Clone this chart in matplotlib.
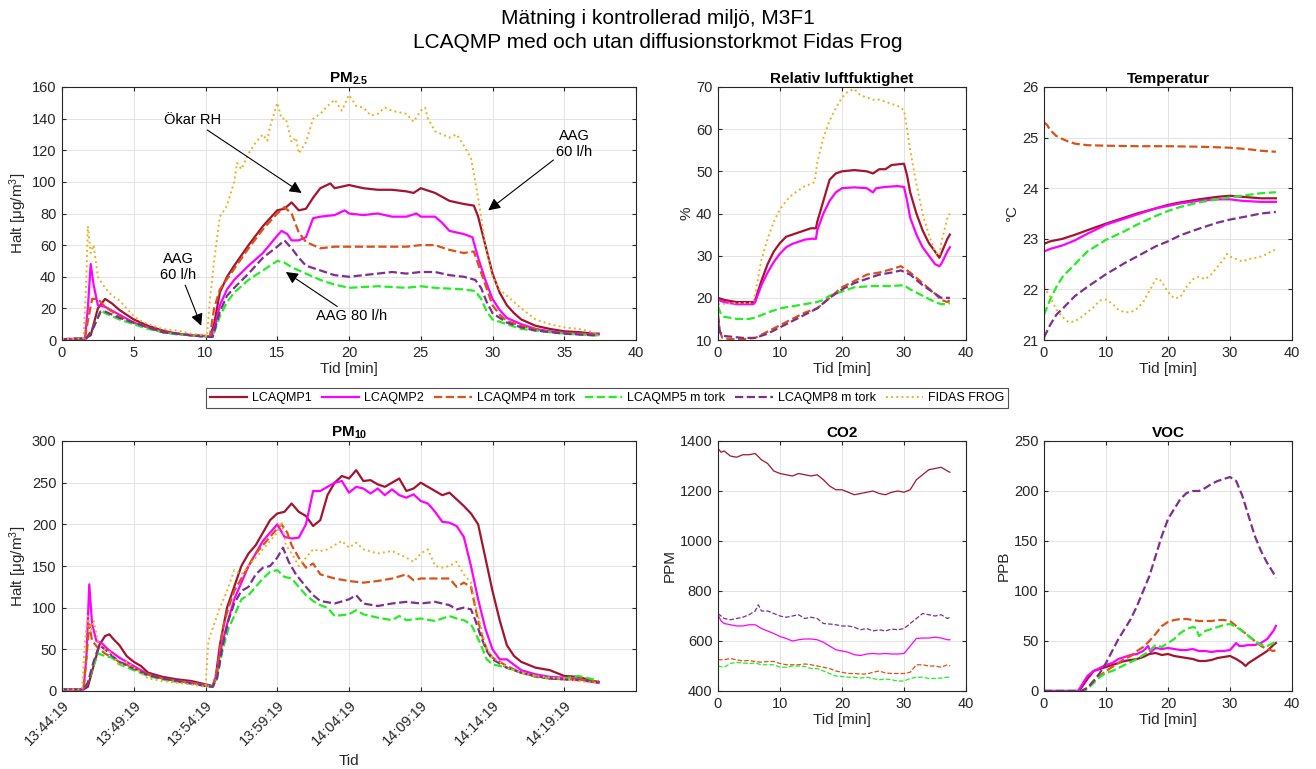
import numpy as np
import matplotlib
matplotlib.use('Agg')
import matplotlib.pyplot as plt

plt.rcParams['font.family'] = ['Liberation Sans', 'DejaVu Sans']
plt.rcParams['mathtext.fontset'] = 'custom'
plt.rcParams['mathtext.rm'] = 'Liberation Sans'
plt.rcParams['mathtext.bf'] = 'Liberation Sans:bold'
plt.rcParams['mathtext.it'] = 'Liberation Sans:italic'

names = ['LCAQMP1', 'LCAQMP2', 'LCAQMP4 m tork', 'LCAQMP5 m tork', 'LCAQMP8 m tork', 'FIDAS FROG']
colors = ['#A2142F', '#FF00FF', '#D95319', '#22EE22', '#7E2F8E', '#EDB120']
styles = ['-', '-', '--', '--', '--', ':']

pm10_ticklabels = ['13:44:19', '13:49:19', '13:54:19', '13:59:19', '14:04:19', '14:09:19', '14:14:19', '14:19:19']

# PM2.5, (tid [min], halt)
pm25_lc1 = [(0, 0.5), (1.5, 0.5), (2, 3), (2.5, 20), (3, 26), (3.5, 23), (4, 19), (5, 13), (6, 9), (7, 6), (8, 4), (9, 3),
            (10, 2.5), (10.3, 2), (10.6, 10), (11, 30), (11.5, 40), (12, 47), (13, 60), (14, 72), (15, 82), (15.5, 83),
            (16, 87), (16.5, 82), (17, 83), (17.5, 90), (18, 96), (18.7, 99), (19, 96), (20, 98), (21, 96), (22, 95),
            (23, 95), (24, 94), (24.5, 93), (25, 96), (26, 93), (27, 88), (27.5, 87), (28, 86), (28.7, 85), (29, 78),
            (29.5, 60), (30, 42), (30.5, 30), (31, 22), (31.5, 17), (32, 13), (33, 9), (34, 7), (35, 5.5), (36, 5),
            (37, 4), (37.4, 4)]
pm25_lc2 = [(0, 0.5), (1.6, 1), (1.8, 20), (2.0, 48), (2.2, 35), (2.5, 22), (3, 21), (4, 16), (5, 11), (6, 8), (7, 5),
            (8, 4), (9, 3), (10, 2.5), (10.4, 2), (10.7, 10), (11, 22), (11.5, 32), (12, 38), (13, 47), (14, 55), (15, 66),
            (15.3, 69), (15.7, 67), (16, 63), (16.5, 63), (17, 65), (17.5, 77), (18, 78), (19, 79), (19.7, 82), (20, 80),
            (21, 79), (22, 80), (23, 78), (24, 78), (24.7, 80), (25, 78), (26, 78), (26.5, 74), (27, 69), (28, 67),
            (28.6, 65), (29, 52), (29.5, 38), (30, 26), (30.5, 19), (31, 14), (32, 10), (33, 7), (34, 5.5), (35, 4.5),
            (36, 4), (37, 3.5), (37.4, 3.5)]
pm25_lc4 = [(0, 0.5), (1.6, 1), (1.8, 12), (2.1, 26), (2.5, 26), (3, 21), (4, 15), (5, 11), (6, 8), (7, 5), (8, 4), (9, 3),
            (10, 2.5), (10.3, 2), (10.6, 20), (11, 32), (12, 45), (13, 58), (14, 70), (15, 80), (15.5, 84), (16, 80),
            (16.5, 68), (17, 62), (17.5, 60), (18, 58), (19, 59), (20, 59), (22, 59), (24, 59), (25, 60), (26, 60),
            (27, 57), (28, 55), (28.7, 56), (29, 48), (29.5, 35), (30, 22), (30.5, 16), (31, 12), (32, 9), (33, 7),
            (34, 5), (35, 4.5), (36, 4), (37, 3.5), (37.4, 3.5)]
pm25_lc5 = [(0, 0.5), (1.7, 1), (2.2, 8), (2.7, 19), (3, 17), (4, 13), (5, 10), (6, 7), (7, 5), (8, 3.5), (9, 3), (10, 2),
            (10.5, 2), (11, 15), (11.5, 24), (12, 30), (13, 38), (14, 44), (15, 50), (15.5, 49), (16, 46), (17, 42),
            (18, 38), (19, 35), (20, 33), (22, 34), (24, 33), (25, 34), (26, 33), (28, 32), (28.8, 31), (29.2, 26),
            (29.6, 18), (30, 13), (31, 10), (32, 7), (33, 6), (34, 5), (35, 4), (36, 3.5), (37, 3), (37.4, 3)]
pm25_lc8 = [(0, 0.5), (1.7, 1), (2.2, 8), (2.7, 18), (3, 18), (4, 14), (5, 11), (6, 8), (7, 5), (8, 4), (9, 3), (10, 2),
            (10.5, 2), (11, 18), (11.5, 28), (12, 33), (13, 42), (14, 52), (15, 59), (15.5, 63), (16, 58), (16.5, 52),
            (17, 47), (18, 44), (19, 41), (20, 40), (21, 41), (22, 42), (23, 43), (24, 42), (25, 43), (26, 43), (27, 41),
            (28, 40), (28.8, 38), (29.2, 33), (29.6, 24), (30, 17), (31, 11), (32, 8), (33, 6), (34, 5), (35, 4),
            (36, 3.5), (37, 3), (37.4, 3)]
pm25_fidas = [(0, 0.5), (1.5, 1), (1.7, 40), (1.8, 72), (2.0, 55), (2.2, 60), (2.5, 40), (3, 33), (3.5, 28), (4, 25),
              (4.5, 20), (5, 15), (5.5, 12), (6, 10), (7, 7), (8, 6), (9, 4), (10, 3), (10.1, 2), (10.3, 25), (10.6, 50),
              (11, 78), (11.3, 82), (11.5, 85), (12, 100), (12.2, 112), (12.5, 108), (13, 118), (13.5, 125), (14, 130),
              (14.3, 126), (14.5, 135), (15, 150), (15.3, 140), (15.6, 140), (16, 125), (16.3, 128), (16.5, 118),
              (17, 125), (17.5, 140), (18, 143), (18.5, 148), (19, 152), (19.5, 145), (20, 155), (20.5, 148),
              (21, 147), (21.5, 142), (22, 143), (22.5, 147), (23, 145), (24, 143), (24.5, 138), (25, 145),
              (25.3, 147), (25.5, 140), (26, 132), (27, 128), (27.5, 130), (28, 123), (28.5, 115), (29, 90),
              (29.5, 60), (30, 40), (30.5, 32), (31, 28), (32, 20), (33, 13), (34, 10), (35, 8), (36, 7), (37, 5),
              (37.4, 4)]

# Relativ luftfuktighet [%]
rh_lc1 = [(0, 20), (1, 19.5), (3, 19), (5.7, 19), (6, 19.5), (7, 24), (8, 28), (9, 31), (10, 33), (11, 34.5), (12, 35),
          (13, 35.5), (14, 36), (15, 36.5), (15.8, 36.5), (16, 38), (17, 43), (18, 48), (19, 49.5), (20, 50), (22, 50.3),
          (24, 50), (25, 49.5), (26, 50.5), (27, 50.5), (28, 51.5), (30, 51.8), (30.5, 49), (31, 45), (32, 40),
          (33, 36), (34, 33), (35, 31), (35.7, 29.5), (36, 30.5), (37, 34), (37.4, 35)]
rh_lc2 = [(0, 19.5), (1, 19), (3, 18.5), (5.7, 18.5), (6, 19), (7, 23), (8, 26), (9, 28.5), (10, 30.5), (11, 32),
          (12, 32.8), (13, 33.3), (14, 33.8), (15, 34), (15.8, 34), (16, 36), (17, 40), (18, 43), (19, 45), (20, 46),
          (22, 46.2), (24, 46), (25, 45), (25.5, 46), (27, 46.3), (29, 46.5), (30, 46.3), (30.5, 43), (31, 39),
          (32, 35), (33, 32), (34, 30), (35, 28), (35.7, 27.5), (36, 28), (37, 31), (37.4, 32)]
rh_lc4 = [(0, 15), (0.3, 12), (0.7, 10.5), (2, 10.2), (4, 10.2), (6, 10.5), (8, 12), (10, 13.5), (12, 15), (14, 16.5),
          (16, 17.5), (18, 20), (20, 22.5), (22, 24), (24, 25.5), (26, 26), (28, 26.8), (29.5, 27.5), (31, 26),
          (33, 23.5), (35, 21), (36, 19.5), (37, 19), (37.4, 19.5)]
rh_lc5 = [(0, 18), (0.5, 16), (1, 15.5), (3, 15), (5, 15), (6, 15.3), (8, 16.5), (10, 17.5), (12, 18), (14, 18.5),
          (16, 19), (17, 19.5), (18, 20.5), (20, 21.5), (22, 22.5), (25, 22.8), (28, 22.8), (30, 23), (31, 22),
          (33, 20.5), (35, 19), (36, 18.5), (37, 18.5), (37.4, 18.8)]
rh_lc8 = [(0, 16), (0.3, 12), (0.7, 11), (2, 10.8), (4, 10.5), (6, 10.5), (8, 11.5), (10, 13), (12, 14.5), (14, 16),
          (16, 17.5), (18, 20), (20, 22), (22, 23.5), (24, 24.5), (26, 25.5), (28, 26), (29.5, 26.5), (31, 25.5),
          (33, 23), (35, 21), (36, 20), (37, 20), (37.4, 20)]
rh_fidas = [(0, 18.5), (2, 18.7), (5, 18.8), (5.7, 19), (6, 21), (7, 29), (8, 34), (9, 38), (10, 41), (11, 43),
            (12, 44.5), (13, 45.5), (14, 46.5), (15, 47), (15.6, 47.5), (16, 52), (17, 58), (18, 62), (19, 65),
            (20, 67.5), (21, 69), (22, 69.5), (23, 68), (24, 67.5), (25, 67), (26, 67), (27, 66.5), (28, 66),
            (29, 65.5), (30, 64.5), (30.5, 60), (31, 55), (32, 47), (33, 40), (34, 35), (35, 31), (35.7, 30),
            (36, 33), (37, 39), (37.4, 40)]

# Temperatur [C]
temp_lc1 = [(0, 22.9), (1, 22.95), (3, 23.0), (5, 23.08), (7, 23.17), (10, 23.3), (13, 23.42), (15, 23.5), (18, 23.6),
            (20, 23.67), (22, 23.72), (25, 23.78), (28, 23.83), (30, 23.85), (32, 23.83), (35, 23.8), (37.4, 23.8)]
temp_lc2 = [(0, 22.75), (1, 22.8), (3, 22.87), (5, 22.97), (7, 23.1), (10, 23.28), (13, 23.4), (15, 23.48), (18, 23.6),
            (20, 23.65), (22, 23.7), (25, 23.75), (28, 23.78), (30, 23.78), (32, 23.75), (35, 23.73), (37.4, 23.73)]
temp_lc4 = [(0, 25.3), (0.5, 25.25), (1, 25.15), (2, 25.03), (3, 24.97), (4, 24.92), (5, 24.88), (7, 24.85), (10, 24.84),
            (15, 24.83), (20, 24.83), (25, 24.82), (30, 24.8), (33, 24.77), (35, 24.74), (37.4, 24.72)]
temp_lc5 = [(0, 21.5), (1, 21.8), (2, 22.05), (3, 22.25), (5, 22.5), (7, 22.75), (10, 22.98), (13, 23.15), (15, 23.28),
            (18, 23.45), (20, 23.55), (22, 23.63), (25, 23.72), (28, 23.78), (30, 23.82), (33, 23.87), (35, 23.9),
            (37.4, 23.92)]
temp_lc8 = [(0, 21.05), (1, 21.3), (2, 21.5), (3, 21.62), (5, 21.87), (7, 22.05), (10, 22.3), (13, 22.52), (15, 22.65),
            (18, 22.85), (20, 22.95), (22, 23.07), (25, 23.2), (28, 23.32), (30, 23.38), (33, 23.45), (35, 23.5),
            (37.4, 23.53)]
temp_fidas = [(0, 22.05), (1, 21.85), (2, 21.6), (3, 21.45), (4, 21.35), (5, 21.37), (6, 21.45), (7, 21.55), (8, 21.65),
              (9, 21.78), (10, 21.8), (11, 21.72), (12, 21.6), (13, 21.55), (14, 21.55), (15, 21.62), (16, 21.75),
              (17, 21.97), (18, 22.2), (18.5, 22.22), (19, 22.15), (20, 21.95), (21, 21.82), (22, 21.85), (23, 22.05),
              (24, 22.2), (25, 22.25), (26, 22.2), (27, 22.3), (28, 22.45), (29, 22.6), (29.5, 22.7), (30, 22.65),
              (31, 22.6), (32, 22.55), (33, 22.6), (34, 22.62), (35, 22.65), (36, 22.7), (37, 22.78), (37.4, 22.75)]

# PM10
pm10_lc1 = [(0, 2), (1.5, 2), (1.8, 5), (2.2, 30), (2.6, 55), (3.0, 66), (3.3, 68), (3.6, 62), (4, 55), (4.5, 42), (5, 35),
            (5.5, 30), (6, 22), (7, 17), (8, 14), (9, 12), (10, 8), (10.5, 6), (10.7, 15), (11, 55), (11.5, 100),
            (12, 125), (12.5, 150), (13, 165), (13.5, 175), (14, 190), (14.5, 205), (15, 213), (15.5, 215), (16, 225),
            (16.5, 215), (17, 210), (17.5, 198), (18, 205), (18.5, 235), (19, 250), (19.5, 258), (20, 255),
            (20.5, 265), (21, 252), (21.5, 253), (22, 248), (22.5, 245), (23, 250), (23.5, 255), (24, 240),
            (24.5, 243), (25, 250), (25.5, 245), (26, 240), (26.5, 235), (27, 238), (27.5, 230), (28, 222),
            (28.5, 213), (29, 200), (29.5, 160), (30, 120), (30.5, 85), (31, 55), (31.5, 42), (32, 35), (33, 28),
            (34, 25), (35, 18), (36, 17), (37, 12), (37.4, 11)]
pm10_lc2 = [(0, 2), (1.5, 2), (1.7, 40), (1.9, 128), (2.1, 80), (2.4, 60), (2.8, 57), (3.2, 50), (4, 40), (5, 30), (6, 20),
            (7, 15), (8, 12), (9, 10), (10, 7), (10.5, 5), (10.8, 20), (11, 45), (11.5, 80), (12, 110), (12.5, 130),
            (13, 150), (13.5, 165), (14, 180), (14.5, 190), (15, 200), (15.5, 185), (16, 183), (16.5, 184), (17, 200),
            (17.5, 240), (18, 240), (18.5, 245), (19, 250), (19.5, 252), (20, 238), (20.5, 245), (21, 243),
            (21.5, 237), (22, 243), (22.5, 235), (23, 242), (23.5, 235), (24, 232), (24.5, 236), (25, 228),
            (25.5, 225), (26, 215), (26.5, 203), (27, 202), (27.5, 198), (28, 185), (28.5, 150), (29, 110),
            (29.5, 75), (30, 50), (30.5, 38), (31, 38), (32, 25), (33, 20), (34, 17), (35, 16), (36, 14), (37, 11),
            (37.4, 10)]
pm10_lc4 = [(0, 2), (1.5, 2), (1.7, 40), (1.9, 80), (2.1, 60), (2.5, 52), (3, 45), (4, 35), (5, 28), (6, 20), (7, 15),
            (8, 12), (9, 10), (10, 7), (10.5, 5), (10.8, 25), (11.2, 75), (11.6, 100), (12, 120), (12.5, 135),
            (13, 150), (13.5, 165), (14, 175), (14.5, 185), (15, 195), (15.3, 200), (15.7, 190), (16, 175),
            (16.5, 160), (17, 148), (17.5, 153), (18, 140), (19, 135), (20, 132), (21, 130), (22, 132), (23, 135),
            (24, 140), (24.5, 133), (25, 135), (26, 135), (27, 135), (27.5, 125), (28, 130), (28.5, 125),
            (28.8, 100), (29.2, 70), (29.6, 50), (30, 40), (31, 30), (32, 22), (33, 17), (34, 15), (35, 14),
            (36, 14), (37, 12), (37.4, 11)]
pm10_lc5 = [(0, 2), (1.5, 2), (1.8, 10), (2.2, 30), (2.5, 45), (3, 42), (3.5, 40), (4, 32), (5, 25), (6, 18), (7, 14),
            (8, 11), (9, 9), (10, 6), (10.5, 5), (10.8, 15), (11.2, 50), (11.6, 75), (12, 90), (12.5, 110), (13, 115),
            (13.5, 125), (14, 135), (14.5, 143), (15, 145), (15.5, 137), (16, 135), (16.5, 125), (17, 115),
            (17.5, 108), (18, 103), (18.5, 100), (19, 90), (20, 92), (20.5, 97), (21, 92), (22, 88), (23, 85),
            (23.5, 90), (24, 85), (25, 87), (26, 84), (27, 90), (27.5, 87), (28, 85), (28.5, 80), (28.8, 70),
            (29.2, 55), (29.6, 38), (30, 32), (31, 28), (32, 22), (33, 18), (34, 15), (35, 15), (36, 18), (37, 14),
            (37.4, 12)]
pm10_lc8 = [(0, 2), (1.5, 2), (1.8, 10), (2.2, 35), (2.6, 55), (3, 50), (3.5, 42), (4, 35), (5, 27), (6, 19), (7, 15),
            (8, 12), (9, 9), (10, 6), (10.5, 5), (10.8, 15), (11.2, 55), (11.6, 85), (12, 105), (12.5, 120),
            (13, 125), (13.5, 140), (14, 148), (14.5, 150), (15, 160), (15.4, 172), (15.8, 155), (16.3, 140),
            (17, 125), (17.5, 115), (18, 108), (19, 105), (20, 110), (20.5, 115), (21, 105), (22, 102), (23, 105),
            (24, 107), (25, 105), (26, 107), (27, 103), (27.5, 98), (28, 100), (28.5, 98), (28.8, 85), (29.2, 65),
            (29.6, 48), (30, 38), (31, 28), (32, 22), (33, 18), (34, 15), (35, 14), (36, 13), (37, 11), (37.4, 10)]
pm10_fidas = [(0, 2), (1.4, 2), (1.6, 60), (1.8, 90), (2.0, 70), (2.2, 85), (2.5, 60), (3, 50), (3.5, 45), (4, 30),
              (4.5, 35), (5, 28), (5.5, 22), (6, 15), (7, 12), (8, 10), (9, 8), (10, 5), (10.2, 60), (10.5, 75),
              (11, 100), (11.5, 120), (12, 145), (12.5, 140), (13, 150), (13.5, 160), (14, 170), (14.5, 180),
              (15, 190), (15.3, 203), (15.6, 175), (16, 165), (16.5, 150), (17, 160), (17.5, 170), (18, 168),
              (18.5, 170), (19, 175), (19.5, 180), (20, 172), (20.5, 178), (21, 170), (22, 165), (23, 168), (24, 160),
              (24.5, 155), (25, 165), (25.5, 170), (26, 150), (26.5, 148), (27, 150), (27.5, 155), (28, 140),
              (28.5, 130), (29, 90), (29.5, 55), (30, 40), (30.5, 35), (31, 28), (32, 22), (33, 18), (34, 16),
              (35, 15), (36, 12), (37, 10), (37.4, 9)]

# CO2 [PPM]
co2_lc1 = [(0, 1370), (0.5, 1355), (1, 1360), (2, 1340), (3, 1335), (4, 1345), (5, 1345), (6, 1350), (7, 1325), (8, 1310),
           (9, 1280), (10, 1270), (11, 1265), (12, 1260), (13, 1270), (14, 1265), (15, 1260), (16, 1265), (17, 1245),
           (18, 1220), (19, 1205), (20, 1205), (21, 1195), (22, 1185), (23, 1190), (24, 1195), (25, 1200), (26, 1190),
           (27, 1185), (28, 1195), (29, 1200), (30, 1195), (31, 1205), (32, 1245), (33, 1265), (34, 1285), (35, 1290),
           (36, 1295), (37, 1280), (37.4, 1275)]
co2_lc2 = [(0, 705), (0.5, 680), (1, 670), (2, 665), (3, 660), (4, 660), (5, 665), (6, 665), (7, 650), (8, 640), (9, 630),
           (10, 618), (11, 610), (12, 600), (13, 605), (14, 608), (15, 608), (16, 605), (17, 595), (18, 580), (19, 565),
           (20, 560), (21, 555), (22, 545), (23, 542), (24, 548), (25, 550), (26, 548), (27, 550), (28, 548), (29, 548),
           (30, 550), (31, 580), (32, 610), (33, 612), (34, 612), (35, 615), (36, 612), (37, 605), (37.4, 605)]
co2_lc4 = [(0, 525), (1, 525), (2, 530), (3, 525), (4, 520), (5, 522), (6, 518), (7, 515), (8, 518), (9, 518), (10, 510),
           (11, 505), (12, 505), (13, 505), (14, 508), (15, 505), (16, 500), (17, 495), (18, 490), (19, 480), (20, 475),
           (21, 470), (22, 470), (23, 468), (24, 468), (25, 475), (26, 480), (27, 472), (28, 470), (29, 470), (30, 470),
           (31, 475), (32, 505), (33, 505), (34, 500), (35, 500), (36, 495), (37, 505), (37.4, 500)]
co2_lc5 = [(0, 500), (1, 495), (2, 510), (3, 515), (4, 512), (5, 510), (6, 512), (7, 505), (8, 505), (9, 505), (10, 495),
           (11, 495), (12, 500), (13, 500), (14, 498), (15, 490), (16, 490), (17, 480), (18, 470), (19, 460), (20, 458),
           (21, 455), (22, 455), (23, 452), (24, 455), (25, 450), (26, 445), (27, 448), (28, 445), (29, 440), (30, 440),
           (31, 450), (32, 455), (33, 455), (34, 450), (35, 450), (36, 452), (37, 455), (37.4, 455)]
co2_lc8 = [(0, 710), (0.5, 700), (1, 690), (2, 685), (3, 690), (4, 695), (5, 705), (6, 720), (6.5, 745), (7, 720), (8, 720),
           (9, 710), (10, 700), (11, 695), (12, 700), (13, 705), (14, 690), (15, 695), (16, 690), (17, 670), (18, 668),
           (19, 665), (20, 660), (21, 660), (22, 655), (23, 645), (24, 650), (25, 640), (26, 645), (27, 640), (28, 648),
           (29, 645), (30, 650), (31, 670), (32, 690), (33, 710), (34, 705), (35, 700), (36, 705), (37, 690), (37.4, 695)]

# VOC [PPB]
voc_lc1 = [(0, 0), (5.5, 0), (6, 3), (7, 12), (8, 20), (9, 22), (10, 24), (11, 26), (12, 28), (13, 30), (14, 31), (15, 32),
           (16, 34), (17, 37), (18, 38), (19, 36), (20, 37), (21, 35), (22, 34), (23, 33), (24, 32), (25, 30), (26, 30),
           (27, 31), (28, 33), (29, 34), (30, 35), (31, 32), (32, 28), (32.5, 25), (33, 28), (34, 32), (35, 36), (36, 40),
           (37, 46), (37.4, 48)]
voc_lc2 = [(0, 0), (5.5, 0), (6, 5), (7, 15), (8, 20), (9, 23), (10, 26), (11, 28), (12, 32), (13, 34), (14, 36), (15, 37),
           (16, 40), (16.8, 45), (17.2, 39), (18, 43), (19, 42), (20, 43), (21, 42), (22, 41), (23, 41), (24, 42), (25, 40),
           (26, 40), (27, 39), (28, 40), (29, 40), (30, 41), (31, 48), (31.5, 45), (32, 45), (33, 46), (34, 46), (35, 48),
           (36, 52), (37, 60), (37.4, 65)]
voc_lc4 = [(0, 0), (6, 0), (7, 3), (8, 10), (9, 15), (10, 20), (11, 24), (12, 28), (13, 32), (14, 35), (15, 40), (16, 44),
           (17, 50), (18, 57), (19, 65), (20, 69), (21, 71), (22, 72), (23, 72), (24, 71), (25, 70), (26, 70), (27, 70),
           (28, 71), (29, 71), (30, 70), (31, 65), (32, 60), (33, 55), (34, 50), (35, 45), (36, 42), (37, 40), (37.4, 41)]
voc_lc5 = [(0, 0), (6.5, 0), (7, 2), (8, 8), (9, 14), (10, 18), (11, 20), (12, 23), (13, 26), (14, 29), (15, 32), (16, 36),
           (17, 40), (18, 46), (19, 44), (20, 48), (21, 52), (22, 58), (23, 62), (24, 64), (24.5, 63), (25, 55), (26, 60),
           (27, 62), (28, 64), (29, 66), (30, 67), (31, 64), (32, 60), (33, 55), (34, 50), (35, 46), (36, 45), (37, 48),
           (37.4, 49)]
voc_lc8 = [(0, 0), (6, 0), (7, 3), (8, 10), (9, 18), (10, 28), (11, 40), (12, 52), (13, 62), (14, 72), (15, 85), (16, 100),
           (17, 115), (18, 135), (19, 155), (20, 172), (21, 182), (22, 192), (23, 198), (24, 200), (25, 200), (26, 203),
           (27, 207), (28, 210), (29, 212), (30, 214), (31, 210), (32, 195), (33, 175), (34, 155), (35, 140), (36, 128),
           (37, 118), (37.4, 113)]


def draw(ax, series, idx, lw):
    handles = []
    for s, i in zip(series, idx):
        t, v = zip(*s)
        h, = ax.plot(t, v, styles[i], color=colors[i], lw=lw[i], label=names[i])
        handles.append(h)
    return handles


def style(ax, title, ylabel, ylim, yticks, xlabel='Tid [min]'):
    ax.set_xlim(0, 40)
    ax.set_xticks([0, 10, 20, 30, 40])
    ax.set_ylim(*ylim)
    ax.set_yticks(yticks)
    ax.set_title(title, fontsize=11, fontweight='bold', pad=3)
    ax.set_ylabel(ylabel, fontsize=11, color='#262626', labelpad=2)
    if xlabel:
        ax.set_xlabel(xlabel, fontsize=11, color='#262626', labelpad=2)
    ax.grid(True, color='#e3e3e3', lw=0.7)
    ax.set_axisbelow(True)
    ax.tick_params(direction='in', top=True, right=True, labelsize=10.5, colors='#262626', length=3, pad=4)
    for sp in ax.spines.values():
        sp.set_color('#262626')
        sp.set_linewidth(0.8)


fig = plt.figure(figsize=(13.16, 7.69), dpi=100)
W, H = 1316, 769


def add_ax(x0, x1, ytop, ybot):
    return fig.add_axes([x0 / W, 1 - ybot / H, (x1 - x0) / W, (ybot - ytop) / H])


lw_main = [1.6, 1.6, 1.6, 1.6, 1.6, 1.4]
lw_thin = [0.9, 0.9, 0.9, 0.9, 0.9, 0.9]

ax1 = add_ax(62, 636, 87, 340)
handles = draw(ax1, [pm25_lc1, pm25_lc2, pm25_lc4, pm25_lc5, pm25_lc8, pm25_fidas], range(6), lw_main)
style(ax1, r'$\mathbf{PM_{2.5}}$', r'Halt [$\mathrm{\mu}$g/m$^3$]', (0, 160), range(0, 161, 20))
ax1.set_xticks(range(0, 41, 5))
arrow = dict(arrowstyle='-|>', color='black', lw=0.8, mutation_scale=18, shrinkA=0, shrinkB=0)
ax1.annotate('Ökar RH', xy=(16.7, 93), xytext=(9.1, 139), ha='center', va='center', fontsize=10.5, arrowprops=arrow)
ax1.annotate('AAG\n60 l/h', xy=(29.7, 82), xytext=(35.7, 124), ha='center', va='center', fontsize=10.5, arrowprops=arrow)
ax1.annotate('AAG\n60 l/h', xy=(9.7, 9), xytext=(8.1, 46), ha='center', va='center', fontsize=10.5, arrowprops=arrow)
ax1.annotate('AAG 80 l/h', xy=(15.6, 43), xytext=(20.2, 15), ha='center', va='center', fontsize=10.5, arrowprops=arrow)

ax2 = add_ax(718, 966, 87, 340)
draw(ax2, [rh_lc1, rh_lc2, rh_lc4, rh_lc5, rh_lc8, rh_fidas], range(6), lw_main)
style(ax2, 'Relativ luftfuktighet', '%', (10, 70), range(10, 71, 10))

ax3 = add_ax(1044, 1292, 87, 340)
draw(ax3, [temp_lc1, temp_lc2, temp_lc4, temp_lc5, temp_lc8, temp_fidas], range(6), lw_main)
style(ax3, 'Temperatur', '°C', (21, 26), range(21, 27))

ax4 = add_ax(62, 636, 441, 691)
draw(ax4, [pm10_lc1, pm10_lc2, pm10_lc4, pm10_lc5, pm10_lc8, pm10_fidas], range(6), lw_main)
style(ax4, r'$\mathbf{PM_{10}}$', r'Halt [$\mathrm{\mu}$g/m$^3$]', (0, 300), range(0, 301, 50), xlabel='Tid')
ax4.set_xticks(range(0, 40, 5))
ax4.set_xticklabels(pm10_ticklabels, rotation=45, ha='right', rotation_mode='anchor')
ax4.tick_params(axis='x', pad=5)
ax4.xaxis.labelpad = 4

ax5 = add_ax(718, 966, 441, 691)
draw(ax5, [co2_lc1, co2_lc2, co2_lc4, co2_lc5, co2_lc8], range(5), lw_thin)
style(ax5, 'CO2', 'PPM', (400, 1400), range(400, 1401, 200))

ax6 = add_ax(1044, 1292, 441, 691)
draw(ax6, [voc_lc1, voc_lc2, voc_lc4, voc_lc5, voc_lc8], range(5), lw_main)
style(ax6, 'VOC', 'PPB', (0, 250), range(0, 251, 50))

leg = fig.legend(handles=handles, loc='center', bbox_to_anchor=(607 / W, 1 - 398 / H), ncol=6, fontsize=9,
                 frameon=True, fancybox=False, edgecolor='#262626', handlelength=3.0, columnspacing=0.8,
                 handletextpad=0.4, borderpad=0.3)
leg.get_frame().set_linewidth(0.8)

fig.text(658 / W, 1 - 18 / H, 'Mätning i kontrollerad miljö, M3F1', ha='center', va='center', fontsize=15)
fig.text(658 / W, 1 - 43 / H, 'LCAQMP med och utan diffusionstorkmot Fidas Frog', ha='center', va='center', fontsize=15)

fig.savefig('out.png', dpi=100)
